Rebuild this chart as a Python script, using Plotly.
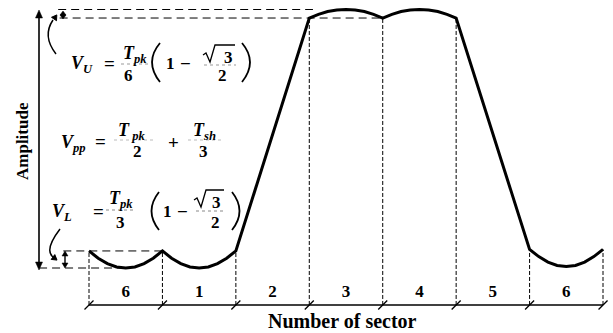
import plotly.graph_objects as go

# ---------------------------------------------------------------- data
# sector numbers written under the horizontal axis
sector_labels = ["6", "1", "2", "3", "4", "5", "6"]
sector_edges = [0, 1, 2, 3, 4, 5, 6, 7]

# waveform: position in sectors and normalised amplitude
wave_x = [0, 0.125, 0.25, 0.375, 0.5, 0.625, 0.75, 0.875,
          1, 1.125, 1.25, 1.375, 1.5, 1.625, 1.75, 1.875,
          2,
          3, 3.125, 3.25, 3.375, 3.5, 3.625, 3.75, 3.875,
          4, 4.125, 4.25, 4.375, 4.5, 4.625, 4.75, 4.875,
          5,
          6, 6.125, 6.25, 6.375, 6.5, 6.625, 6.75, 6.875, 7]
wave_y = [0.066, 0.038, 0.017, 0.004, 0.000, 0.004, 0.017, 0.038,
          0.066, 0.038, 0.017, 0.004, 0.000, 0.004, 0.017, 0.038,
          0.066,
          0.967, 0.981, 0.992, 0.998, 1.000, 0.998, 0.992, 0.981,
          0.967, 0.981, 0.992, 0.998, 1.000, 0.998, 0.992, 0.981,
          0.967,
          0.072, 0.044, 0.023, 0.010, 0.006, 0.010, 0.023, 0.044, 0.072]

# ---------------------------------------------------------------- setup
W, H = 613, 333
SERIF = "Liberation Serif"
AXIS_Y = -0.143          # level of the sector axis line
LABEL_Y = -0.097         # level of the sector numbers

edge_value = dict(zip(wave_x, wave_y))
top_peak = max(wave_y)
top_cusp = edge_value[3]
low_cusp = edge_value[0]
low_min = min(wave_y)

fig = go.Figure()

# sector boundaries (dashed, from the axis up to the waveform)
bx, by = [], []
for e in sector_edges:
    bx += [e, e, None]
    by += [AXIS_Y, edge_value[e], None]
fig.add_trace(go.Scatter(x=bx, y=by, mode="lines",
                         line=dict(color="black", width=1, dash="4px,2px"),
                         hoverinfo="skip"))

# ripple reference levels
for level, x_from, x_to in [(top_peak, -0.42, 3.05), (top_cusp, -0.40, 4),
                            (low_cusp, -0.35, 1), (low_min, -0.68, 0.5)]:
    fig.add_trace(go.Scatter(x=[x_from, x_to], y=[level, level], mode="lines",
                             line=dict(color="black", width=1, dash="8px,5px"),
                             hoverinfo="skip"))

# sector axis line with slanted ticks
fig.add_trace(go.Scatter(x=[sector_edges[0], sector_edges[-1]], y=[AXIS_Y, AXIS_Y],
                         mode="lines", line=dict(color="black", width=1.6),
                         hoverinfo="skip"))
fig.add_trace(go.Scatter(x=sector_edges, y=[AXIS_Y] * len(sector_edges),
                         mode="markers",
                         marker=dict(symbol="line-ne", size=9,
                                     line=dict(color="black", width=1.3)),
                         hoverinfo="skip"))

# sector numbers
fig.add_trace(go.Scatter(x=[e + 0.5 for e in sector_edges[:-1]],
                         y=[LABEL_Y] * len(sector_labels),
                         mode="text", text=[f"<b>{s}</b>" for s in sector_labels],
                         textfont=dict(family=SERIF, size=17, color="black"),
                         hoverinfo="skip"))

# waveform
fig.add_trace(go.Scatter(x=wave_x, y=wave_y, mode="lines",
                         line=dict(color="black", width=3),
                         hoverinfo="skip"))

# pixel-space overlay for the annotation drawing
fig.add_trace(go.Scatter(x=[None], y=[None], xaxis="x2", yaxis="y2",
                         mode="markers", hoverinfo="skip"))


def txt(x, y, s, size=18, xanchor="center"):
    fig.add_annotation(x=x, y=y, xref="x2", yref="y2", text=s, showarrow=False,
                       font=dict(family=SERIF, size=size, color="black"),
                       xanchor=xanchor, yanchor="middle", borderpad=0)


def path(d, width=1.4, fill=None):
    fig.add_shape(type="path", path=d, xref="x2", yref="y2",
                  line=dict(color="black", width=width),
                  fillcolor=fill if fill else "rgba(0,0,0,0)")


def seg(x0, y0, x1, y1, width=1, color="black", dash="solid"):
    fig.add_shape(type="line", x0=x0, y0=y0, x1=x1, y1=y1, xref="x2", yref="y2",
                  line=dict(color=color, width=width, dash=dash))


def vertical_arrow(x, y_top, y_bot, head=6, half=3, width=1.5):
    seg(x, y_top + head * 0.6, x, y_bot - head * 0.6, width=width)
    path(f"M {x},{y_top} L {x - half},{y_top + head} L {x + half},{y_top + head} Z",
         width=0.5, fill="black")
    path(f"M {x},{y_bot} L {x - half},{y_bot - head} L {x + half},{y_bot - head} Z",
         width=0.5, fill="black")


def bv(s):
    return f"<b><i>{s}</i></b>"


def sym(s, sub):
    return f"{bv(s)}<sub>{bv(sub)}</sub>"


def radical(x, y_mid, x_end):
    # small square-root sign with its overbar
    path(f"M {x},{y_mid - 1} L {x + 3},{y_mid - 3} L {x + 7},{y_mid + 6} "
         f"L {x + 12},{y_mid - 11} L {x_end},{y_mid - 11}", width=1.3)


# amplitude arrow and axis titles
vertical_arrow(39, 10, 270, head=8, half=3.5, width=1.6)
fig.add_annotation(x=22, y=141, xref="x2", yref="y2", text="<b>Amplitude</b>",
                   showarrow=False, textangle=-90,
                   font=dict(family=SERIF, size=17, color="black"))
fig.add_annotation(x=342, y=321, xref="x2", yref="y2", text="<b>Number of sector</b>",
                   showarrow=False, font=dict(family=SERIF, size=20, color="black"))

# small ripple arrows
vertical_arrow(63, 11, 19, head=4, half=3, width=1.4)
vertical_arrow(65, 251, 268, head=5, half=3, width=1.4)

# curved pointers to the ripple levels
path("M 56,54 Q 42,36 53,20", width=1.5)
path("M 56.8,14.9 L 56.5,20.7 L 51.5,17.3 Z", width=1, fill="black")
path("M 60,229 Q 44,250 53,257", width=1.5)
path("M 57,260.1 L 51.2,259.4 L 54.8,254.6 Z", width=1, fill="black")

# ---- V_U = T_pk/6 (1 - sqrt3/2)
txt(70, 64, sym("V", "U"), xanchor="left")
txt(109, 63, "<b>=</b>", 19)
txt(135, 54, sym("T", "pk"))
seg(121, 64, 149, 64, color="#999", dash="dot")
txt(128, 75, "<b>6</b>", 17)
path("M 160,43 Q 144,62 160,82", width=1.8)
txt(170, 63, "<b>1</b>", 17)
txt(185, 63, "<b>−</b>", 19)
radical(203, 56, 235)
txt(228, 57, "<b>3</b>", 17)
seg(204, 65, 236, 65, color="#999", dash="dot")
txt(222, 75, "<b>2</b>", 17)
path("M 242,43 Q 258,62 242,82", width=1.8)

# ---- V_pp = T_pk/2 + T_sh/3
txt(60, 143, sym("V", "pp"), xanchor="left")
txt(100, 141, "<b>=</b>", 19)
txt(131, 131, sym("T", " pk"))
seg(114, 140, 154, 140, color="#bbb", dash="dot")
txt(137, 151, "<b>2</b>", 17)
txt(173, 142, "<b>+</b>", 19)
txt(204, 131, sym("T", "sh"))
seg(188, 140, 221, 140, color="#bbb", dash="dot")
txt(203, 151, "<b>3</b>", 17)

# ---- V_L = T_pk/3 (1 - sqrt3/2)
txt(51, 212, sym("V", "L"), xanchor="left")
txt(98, 211, "<b>=</b>", 19)
txt(121, 199, sym("T", "pk"))
seg(106, 210, 136, 210, color="#888", dash="dot")
txt(120, 222, "<b>3</b>", 17)
path("M 159,192 Q 144,211 159,230", width=1.8)
txt(167, 211, "<b>1</b>", 17)
txt(182, 211, "<b>−</b>", 19)
radical(194, 201, 224)
txt(216, 202, "<b>3</b>", 17)
seg(196, 211, 226, 211, color="#888", dash="dot")
txt(215, 222, "<b>2</b>", 17)
path("M 232,192 Q 247,211 232,230", width=1.8)

# ---------------------------------------------------------------- layout
px_per_sector = 73.43
x_zero_px = 89
amp_px = 258.5
amp_zero_px = 268

fig.update_layout(
    width=W, height=H, autosize=False,
    margin=dict(l=0, r=0, t=0, b=0, pad=0),
    paper_bgcolor="white", plot_bgcolor="white",
    showlegend=False,
    xaxis=dict(range=[-x_zero_px / px_per_sector, (W - x_zero_px) / px_per_sector],
               visible=False, fixedrange=True),
    yaxis=dict(range=[-(H - amp_zero_px) / amp_px, amp_zero_px / amp_px],
               visible=False, fixedrange=True),
    xaxis2=dict(range=[0, W], overlaying="x", visible=False, fixedrange=True),
    yaxis2=dict(range=[H, 0], overlaying="y", visible=False, fixedrange=True),
)

fig.write_html("out.html")
